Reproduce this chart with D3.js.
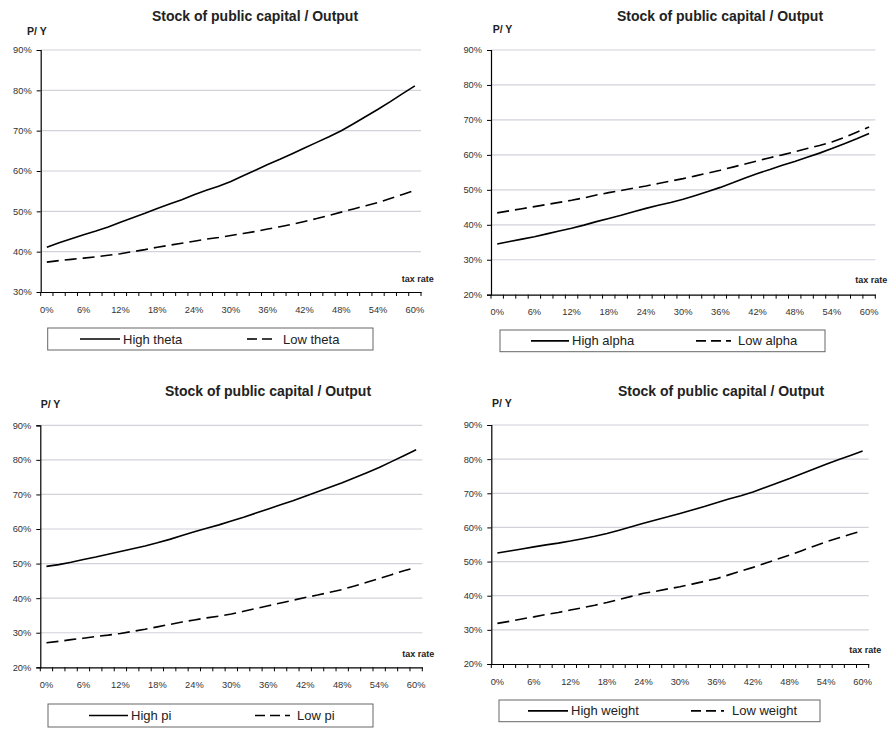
<!DOCTYPE html>
<html><head><meta charset="utf-8">
<script src="https://cdn.jsdelivr.net/npm/d3@7"></script>
<style>body{margin:0;background:#fff}svg{display:block}text{font-family:Arial,"Liberation Sans",sans-serif}</style>
</head><body><svg id="c" width="892" height="729"></svg>
<script>
// ---- data ----
const taxRates = d3.range(0, 61, 2); // 0%,2%,...,60% categories
const tickLabelEvery = 3; // label every 6%
const titleText = "Stock of public capital / Output";
const yAxisLabel = "P/ Y";
const xAxisLabel = "tax rate";

const highTheta = [41.1,42.2,43.2,44.2,45.1,46.1,47.3,48.4,49.5,50.7,51.8,52.9,54.1,55.2,56.2,57.4,58.8,60.2,61.6,62.9,64.3,65.7,67.1,68.5,70.0,71.7,73.5,75.3,77.2,79.2,81.1];
const lowTheta  = [37.4,37.8,38.1,38.4,38.7,39.1,39.5,40.0,40.5,41.1,41.6,42.1,42.6,43.1,43.5,44.0,44.5,45.0,45.6,46.2,46.8,47.5,48.2,49.0,49.8,50.6,51.4,52.2,53.2,54.2,55.2];
const highAlpha = [34.5,35.2,35.9,36.6,37.4,38.2,39.0,39.9,40.9,41.8,42.7,43.7,44.7,45.6,46.4,47.3,48.4,49.5,50.7,52.0,53.4,54.7,55.8,57.0,58.1,59.3,60.5,61.8,63.2,64.6,66.1];
const lowAlpha  = [43.4,44.0,44.6,45.2,45.8,46.4,47.0,47.7,48.5,49.2,49.8,50.5,51.1,51.8,52.5,53.2,54.0,54.8,55.6,56.5,57.4,58.3,59.2,60.0,60.9,61.8,62.7,63.7,65.0,66.5,68.0];
const highPi    = [49.2,49.7,50.4,51.2,51.9,52.7,53.5,54.3,55.1,56.0,57.0,58.1,59.2,60.2,61.2,62.3,63.4,64.6,65.8,67.0,68.2,69.5,70.8,72.1,73.4,74.8,76.3,77.8,79.5,81.2,82.9];
const lowPi     = [27.1,27.5,28.0,28.4,28.9,29.3,29.8,30.4,31.0,31.7,32.4,33.1,33.7,34.3,34.8,35.4,36.2,37.0,37.8,38.6,39.4,40.2,40.9,41.7,42.5,43.5,44.6,45.7,46.8,47.9,48.9];
const highWeight= [52.5,53.1,53.7,54.3,54.9,55.4,56.0,56.7,57.4,58.2,59.2,60.2,61.2,62.2,63.1,64.1,65.1,66.1,67.2,68.3,69.3,70.4,71.7,73.0,74.3,75.7,77.1,78.5,79.8,81.1,82.4];
const lowWeight = [31.9,32.5,33.2,33.8,34.5,35.1,35.8,36.5,37.2,38.0,38.9,39.8,40.7,41.3,42.0,42.6,43.4,44.2,45.0,46.1,47.2,48.3,49.5,50.7,51.9,53.2,54.5,55.8,56.9,58.0,59.0];

const seriesNames = [["High theta","Low theta"],["High alpha","Low alpha"],["High pi","Low pi"],["High weight","Low weight"]];
const seriesValues = [[highTheta,lowTheta],[highAlpha,lowAlpha],[highPi,lowPi],[highWeight,lowWeight]];
const yDomains = [[30,90],[20,90],[20,90],[20,90]];

// ---- layout (positions, not data) ----
const layout = [
  {l:40.7,r:421,t:50,b:292, tx:255,ty:21, py:[27,35], xl:[401.7,282], lg:{x0:47.7,x1:373,y0:328,y1:350,s1:[80,120],t1:123,s2:[247,277],t2:283}},
  {l:491,r:875.3,t:50,b:294.7, tx:720,ty:21, py:[492.7,32.7], xl:[855.3,283], lg:{x0:500,x1:825,y0:330,y1:351.7,s1:[531,569],t1:572,s2:[696,731],t2:738}},
  {l:40.3,r:422.3,t:425.3,b:667.3, tx:268,ty:396, py:[40.7,408], xl:[402.3,656.7], lg:{x0:48,x1:373,y0:704,y1:727,s1:[89,128],t1:131,s2:[255,290],t2:297}},
  {l:491.3,r:868.7,t:425,b:664, tx:721,ty:396, py:[492,407], xl:[849.3,653], lg:{x0:499,x1:820,y0:700,y1:721.7,s1:[528,568],t1:571,s2:[691,724],t2:732}}
];

const svg = d3.select("#c");
const dash = "12,6";

layout.forEach((L, k) => {
  const g = svg.append("g");
  const x = d3.scaleBand().domain(taxRates).range([L.l, L.r]).paddingInner(0).paddingOuter(0);
  const y = d3.scaleLinear().domain(yDomains[k]).range([L.b, L.t]);
  const yTicks = d3.range(yDomains[k][0], yDomains[k][1] + 1, 10);

  // gridlines
  g.append("g").selectAll("line").data(yTicks.slice(1)).join("line")
    .attr("x1", L.l).attr("x2", L.r).attr("y1", d => y(d)).attr("y2", d => y(d))
    .attr("stroke", "#d2d2da").attr("stroke-width", 1.2);

  // y axis
  const ya = g.append("g").attr("transform", `translate(${L.l},0)`)
    .call(d3.axisLeft(y).tickValues(yTicks).tickSize(4).tickPadding(5).tickFormat(d => d + "%"));
  ya.select(".domain").attr("stroke", "#000").attr("stroke-width", 1.2);
  ya.selectAll(".tick line").attr("stroke", "#000");
  ya.selectAll("text").attr("font-size", 9.3).attr("fill", "#333").attr("font-family", "Arial, Liberation Sans, sans-serif");

  // x axis (category axis, ticks at boundaries)
  const xa = g.append("g").attr("transform", `translate(0,${L.b})`)
    .call(d3.axisBottom(x).tickSize(0).tickPadding(14)
      .tickFormat((d, i) => i % tickLabelEvery === 0 ? d + "%" : ""));
  xa.select(".domain").attr("stroke", "#000").attr("stroke-width", 1.2);
  xa.selectAll("text").attr("font-size", 9.3).attr("fill", "#333").attr("font-family", "Arial, Liberation Sans, sans-serif");
  const bounds = taxRates.map(d => x(d)).concat([L.r]);
  xa.append("g").selectAll("line").data(bounds).join("line")
    .attr("x1", d => d).attr("x2", d => d).attr("y1", 0).attr("y2", 4)
    .attr("stroke", "#000").attr("stroke-width", 1);

  // lines
  const line = d3.line().x((d, i) => x(taxRates[i]) + x.bandwidth() / 2).y(d => y(d));
  seriesValues[k].forEach((vals, s) => {
    g.append("path").datum(vals).attr("d", line).attr("fill", "none")
      .attr("stroke", "#000").attr("stroke-width", 1.6)
      .attr("stroke-dasharray", s === 1 ? dash : null);
  });

  // texts
  g.append("text").attr("x", L.tx).attr("y", L.ty).attr("text-anchor", "middle")
    .attr("font-size", 14).attr("font-weight", "bold").attr("fill", "#222").text(titleText);
  g.append("text").attr("x", L.py[0]).attr("y", L.py[1])
    .attr("font-size", 10.5).attr("font-weight", "bold").attr("fill", "#222").text(yAxisLabel);
  g.append("text").attr("x", L.xl[0]).attr("y", L.xl[1])
    .attr("font-size", 9).attr("font-weight", "bold").attr("fill", "#222").text(xAxisLabel);

  // legend
  const lg = L.lg, cy = (lg.y0 + lg.y1) / 2;
  g.append("rect").attr("x", lg.x0).attr("y", lg.y0).attr("width", lg.x1 - lg.x0).attr("height", lg.y1 - lg.y0)
    .attr("fill", "#fff").attr("stroke", "#666").attr("stroke-width", 1);
  g.append("line").attr("x1", lg.s1[0]).attr("x2", lg.s1[1]).attr("y1", cy).attr("y2", cy)
    .attr("stroke", "#000").attr("stroke-width", 1.6);
  g.append("line").attr("x1", lg.s2[0]).attr("x2", lg.s2[1]).attr("y1", cy).attr("y2", cy)
    .attr("stroke", "#000").attr("stroke-width", 1.6).attr("stroke-dasharray", "10,5");
  g.append("text").attr("x", lg.t1).attr("y", cy + 4.6).attr("font-size", 13).attr("fill", "#222").text(seriesNames[k][0]);
  g.append("text").attr("x", lg.t2).attr("y", cy + 4.6).attr("font-size", 13).attr("fill", "#222").text(seriesNames[k][1]);
});
</script></body></html>
